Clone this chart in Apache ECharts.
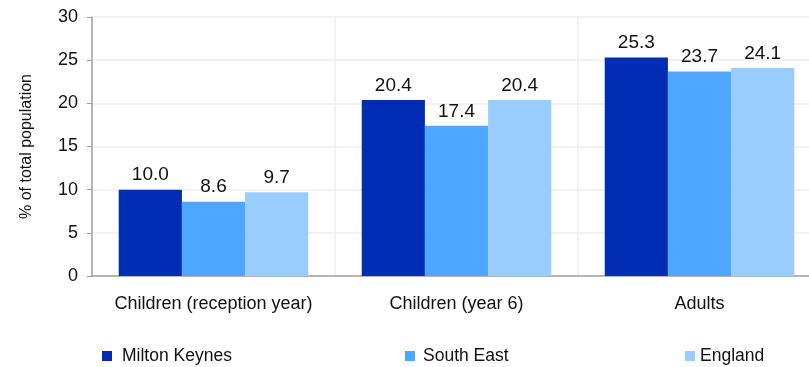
<!DOCTYPE html>
<html><head><meta charset="utf-8">
<script src="https://cdn.jsdelivr.net/npm/echarts@6/dist/echarts.min.js"></script>
<style>html,body{margin:0;padding:0;background:#fff;overflow:hidden}#c{width:809px;height:367px}</style>
</head><body><div id="c"></div>
<script>
const categories = ['Children (reception year)', 'Children (year 6)', 'Adults'];
const seriesNames = ['Milton Keynes', 'South East', 'England'];
const miltonKeynes = [10.0, 20.4, 25.3];
const southEast = [8.6, 17.4, 23.7];
const england = [9.7, 20.4, 24.1];
const yTicks = [0, 5, 10, 15, 20, 25, 30];
const colors = ['#002db3', '#4da6ff', '#99ccff'];
const values = [miltonKeynes, southEast, england];
const font = 'Liberation Sans, Arial, sans-serif';
const chart = echarts.init(document.getElementById('c'), null, {renderer: 'canvas'});
const legendLefts = [102, 405, 685];
const legendTextPad = [5, 3, 0];
chart.setOption({
  animation: false,
  textStyle: {fontFamily: font},
  grid: {left: 92, width: 729, top: 17, height: 259, outerBoundsMode: 'none', containLabel: false},
  legend: seriesNames.map((n, i) => ({
    data: [n], left: legendLefts[i], top: 347, icon: 'rect', itemWidth: 10, itemHeight: 10, padding: 0,
    textStyle: {fontSize: 17.5, color: '#111', fontFamily: font, padding: [0, 0, 0, legendTextPad[i]]}
  })),
  xAxis: {
    type: 'category', data: categories,
    axisLine: {lineStyle: {color: '#a0a0a0', width: 1.5}},
    axisTick: {show: false},
    splitLine: {show: true, lineStyle: {color: '#eeeeee', width: 1.5}},
    axisLabel: {fontSize: 18, color: '#111', margin: 19, fontFamily: font, interval: 0, hideOverlap: false}
  },
  yAxis: {
    type: 'value', min: yTicks[0], max: yTicks[yTicks.length - 1], interval: 5,
    name: '% of total population', nameLocation: 'middle', nameGap: 57,
    nameTextStyle: {fontSize: 16, color: '#111', fontFamily: font},
    axisLine: {show: true, lineStyle: {color: '#a0a0a0', width: 1.5}},
    axisTick: {show: true, length: 5, lineStyle: {color: '#a0a0a0'}},
    splitLine: {lineStyle: {color: '#eeeeee', width: 1.5}},
    axisLabel: {fontSize: 18, color: '#111', margin: 14, fontFamily: font}
  },
  series: seriesNames.map((n, i) => ({
    name: n, type: 'bar', data: values[i],
    barGap: '0%', barCategoryGap: '22%',
    itemStyle: {color: colors[i]},
    label: {show: true, position: 'top', distance: 5, fontSize: 19, color: '#111', fontFamily: font,
      formatter: p => p.value.toFixed(1)}
  }))
});
</script></body></html>
